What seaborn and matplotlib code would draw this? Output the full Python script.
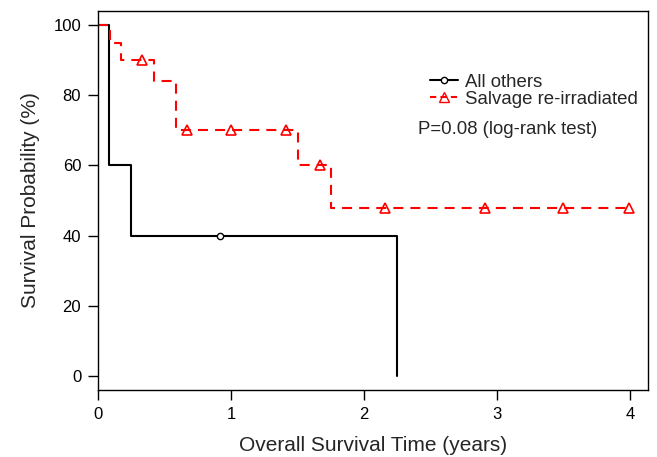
import matplotlib
matplotlib.use('Agg')
import matplotlib.pyplot as plt
from matplotlib.lines import Line2D
import seaborn as sns
import numpy as np
import pandas as pd

# === 1. Kaplan-Meier step data ===
others_time = [0.0, 0.083, 0.248, 2.25]
others_surv = [100, 60, 40, 0]
others_censor = [0.915]

salvage_time = [0.0, 0.09, 0.17, 0.42, 0.585, 1.50, 1.75, 4.0]
salvage_surv = [100, 95, 90, 84, 70, 60, 48, 48]
salvage_censor = [0.335, 0.668, 1.003, 1.415, 1.666, 2.16, 2.91, 3.49, 3.99]

group_names = ['All others', 'Salvage re-irradiated']
x_ticks = [0, 1, 2, 3, 4]
y_ticks = [0, 20, 40, 60, 80, 100]


def surv_at(times, surv, t):
    idx = np.searchsorted(times, t, side='right') - 1
    return np.asarray(surv)[idx]


curves = pd.concat([
    pd.DataFrame({'time': others_time, 'surv': others_surv, 'group': group_names[0]}),
    pd.DataFrame({'time': salvage_time, 'surv': salvage_surv, 'group': group_names[1]}),
])
censors = pd.concat([
    pd.DataFrame({'time': others_censor,
                  'surv': surv_at(others_time, others_surv, others_censor),
                  'group': group_names[0]}),
    pd.DataFrame({'time': salvage_censor,
                  'surv': surv_at(salvage_time, salvage_surv, salvage_censor),
                  'group': group_names[1]}),
])

# === 2. Plot ===
sns.set_style('ticks')
plt.rcParams['font.family'] = ['Liberation Sans', 'DejaVu Sans']

fig = plt.figure(figsize=(6.57, 4.57), dpi=100)
ax = fig.add_axes([0.149, 0.1466, 0.837, 0.8294])

black = curves[curves.group == group_names[0]]
red = curves[curves.group == group_names[1]]
sns.lineplot(data=black, x='time', y='surv', estimator=None, sort=False,
             drawstyle='steps-post', color='black', lw=1.5, ax=ax)
sns.lineplot(data=red, x='time', y='surv', estimator=None, sort=False,
             drawstyle='steps-post', color='red', lw=1.5, ax=ax,
             dashes=False)
ax.lines[-1].set_dashes((4.8, 3.4))

# censor marks
cb = censors[censors.group == group_names[0]]
cr = censors[censors.group == group_names[1]]
ax.plot(cb.time, cb.surv, ls='none', marker='o', ms=4.5, mfc='white',
        mec='black', mew=1)
ax.plot(cr.time, cr.surv, ls='none', marker='^', ms=7, mfc='none',
        mec='red', mew=1.2)

ax.set_xlim(0, 4.13)
ax.set_ylim(-4, 104)
ax.set_xticks(x_ticks)
ax.set_yticks(y_ticks)
ax.tick_params(direction='out', length=7, width=1, labelsize=12, pad=5,
               colors='black')
for s in ax.spines.values():
    s.set_visible(True)
    s.set_linewidth(1)
    s.set_color('black')

ax.set_xlabel('Overall Survival Time (years)', fontsize=15, labelpad=10)
ax.set_ylabel('Survival Probability (%)', fontsize=15, labelpad=10)

handles = [
    Line2D([], [], color='black', lw=1.5, marker='o', ms=4.5, mfc='white', mec='black'),
    Line2D([], [], color='red', lw=1.5, ls=(0, (3.0, 2.0)), marker='^', ms=7,
           mfc='none', mec='red'),
]
ax.legend(handles, group_names, loc='upper left', bbox_to_anchor=(0.604, 0.835),
          frameon=False, fontsize=13.4, handlelength=1.5, handletextpad=0.37,
          labelspacing=0.0, borderpad=0, borderaxespad=0)
ax.text(0.582, 0.688, 'P=0.08 (log-rank test)', transform=ax.transAxes,
        fontsize=13.4, va='center', ha='left')

fig.savefig('out.png', dpi=100)
